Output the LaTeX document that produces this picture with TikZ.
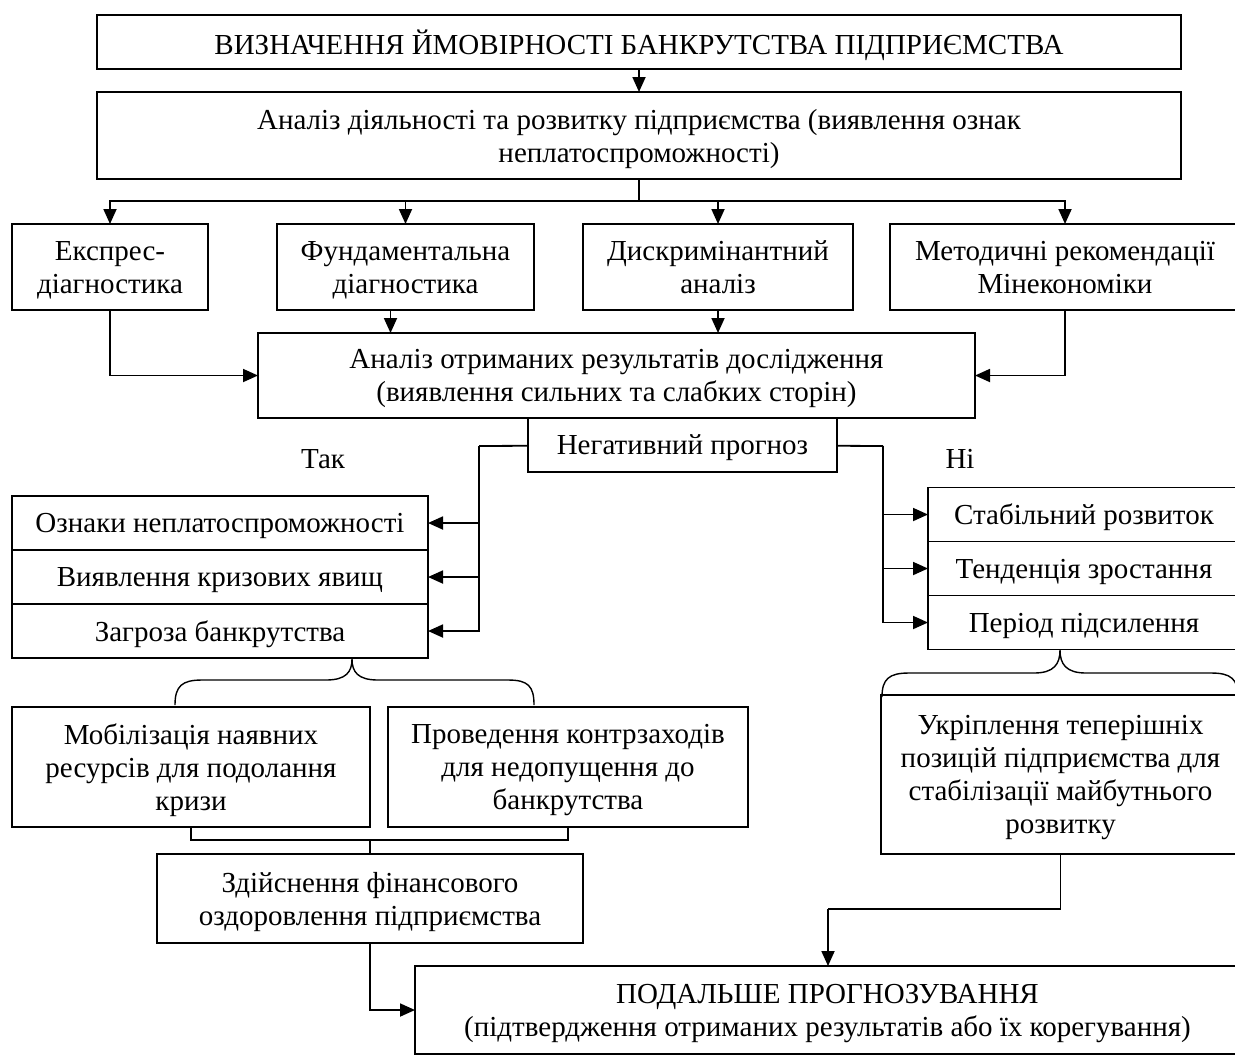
\documentclass[tikz,border=0pt]{standalone}
\usepackage{fontspec}
\setmainfont{Liberation Serif}
\usetikzlibrary{arrows.meta,positioning}
\tikzset{box/.style={draw, line width=0.8pt, rectangle, align=center, inner sep=2pt, outer sep=0pt, text depth=0pt, font=\fontsize{14.5}{16.5}\selectfont},
  lbl/.style={font=\fontsize{14.5}{16.5}\selectfont},
  >={Triangle[length=7.5pt,width=6.5pt]}, x=0.5pt, y=-0.5pt}

\begin{document}
\begin{tikzpicture}[line width=0.9pt]
    \useasboundingbox (0,0) rectangle (1235,1056);
    \node[box,minimum width=542pt,minimum height=27pt] (T) at (639,42) {ВИЗНАЧЕННЯ ЙМОВІРНОСТІ БАНКРУТСТВА ПІДПРИЄМСТВА};
    \node[box,minimum width=542pt,minimum height=43.5pt] (A1) at (639,135.5) {Аналіз діяльності та розвитку підприємства (виявлення ознак\\неплатоспроможності)};
    \node[box,minimum width=98pt,minimum height=43pt] (M1) at (110,267) {Експрес-\\діагностика};
    \node[box,minimum width=128.5pt,minimum height=43pt] (M2) at (405.5,267) {Фундаментальна\\діагностика};
    \node[box,minimum width=135pt,minimum height=43pt] (M3) at (718,267) {Дискримінантний\\аналіз};
    \node[box,minimum width=175pt,minimum height=43pt] (M4) at (1065,267) {Методичні рекомендації\\Мінекономіки};
    \node[box,minimum width=358.5pt,minimum height=42.5pt] (A2) at (616.5,375.5) {Аналіз отриманих результатів дослідження\\(виявлення сильних та слабких сторін)};
    \node[box,minimum width=154.5pt,minimum height=27pt] (NP) at (682.5,445) {Негативний прогноз};
    \node[lbl] (Yes) at (323,459) {Так};
    \node[lbl] (No) at (960,459) {Ні};
    % ліва колонка
    \node[box,minimum width=208pt,minimum height=27pt] (L1) at (220,523) {Ознаки неплатоспроможності};
    \node[box,minimum width=208pt,minimum height=27pt,below=0pt of L1] (L2) {Виявлення кризових явищ};
    \node[box,minimum width=208pt,minimum height=27pt,below=0pt of L2] (L3) {Загроза банкрутства};
    % права колонка
    \node[box,minimum width=156pt,minimum height=27pt] (R1) at (1084,514.5) {Стабільний розвиток};
    \node[box,minimum width=156pt,minimum height=27pt,below=0pt of R1] (R2) {Тенденція зростання};
    \node[box,minimum width=156pt,minimum height=27pt,below=0pt of R2] (R3) {Період підсилення};
    \node[box,minimum width=179pt,minimum height=60pt] (S1) at (191,767) {Мобілізація наявних\\ресурсів для подолання\\кризи};
    \node[box,minimum width=180pt,minimum height=60pt] (S2) at (568,767) {Проведення контрзаходів\\для недопущення до\\банкрутства};
    \node[box,minimum width=213pt,minimum height=44.5pt] (FZ) at (370,898.5) {Здійснення фінансового\\оздоровлення підприємства};
    \node[box,minimum width=179.5pt,minimum height=79.5pt] (UK) at (1060.5,774.5) {Укріплення теперішніх\\позицій підприємства для\\стабілізації майбутнього\\розвитку};
    \node[box,minimum width=412.5pt,minimum height=44pt] (PP) at (827.5,1010) {ПОДАЛЬШЕ ПРОГНОЗУВАННЯ\\(підтвердження отриманих результатів або їх корегування)};

    \coordinate (fork) at (639,201);
    \coordinate (lsplit) at (479,446);
    \coordinate (rsplit) at (883,446);
    \coordinate (join) at (370,840);
    \coordinate (bend) at (828,909);

    \draw[->] (T) -- (A1);
    \draw (A1) -- (fork);
    \draw[->] (fork) -| (M1);
    \draw[->] (fork) -| (M2);
    \draw[->] (fork) -| (M3);
    \draw[->] (fork) -| (M4);
    \draw[->] ([xshift=-7.5pt]M2.south) -- ([xshift=-7.5pt]M2.south |- A2.north);
    \draw[->] (M3) -- (M3 |- A2.north);
    \draw[->] (M1) |- (A2);
    \draw[->] (M4) |- (A2);
    \draw (NP) -- (lsplit);
    \draw[->] (lsplit) |- (L1);
    \draw[->] (lsplit) |- (L2);
    \draw[->] (lsplit) |- (L3);
    \draw (NP) -- (rsplit);
    \draw[->] (rsplit) |- (R1);
    \draw[->] (rsplit) |- (R2);
    \draw[->] (rsplit) |- (R3);
    % фігурні дужки
    \draw[line width=0.7pt] (175,705) .. controls (175,686) and (182,680) .. (202,680) -- (326,680) .. controls (346,680) and (352,672) .. (352,659) .. controls (352,672) and (358,680) .. (378,680) -- (508,680) .. controls (528,680) and (534,686) .. (534,705);
    \draw[line width=0.7pt] (882,697) .. controls (882,679) and (889,673) .. (909,673) -- (1034,673) .. controls (1054,673) and (1060,664) .. (1060,650) .. controls (1060,664) and (1066,673) .. (1086,673) -- (1211,673) .. controls (1231,673) and (1238,679) .. (1238,697);
    \draw (S1) |- (join) -| (S2);
    \draw (join) -- (FZ);
    \draw[->] (FZ) |- (PP);
    \draw (UK) |- (bend);
    \draw[->] (bend) -- (bend |- PP.north);
\end{tikzpicture}
\end{document}
